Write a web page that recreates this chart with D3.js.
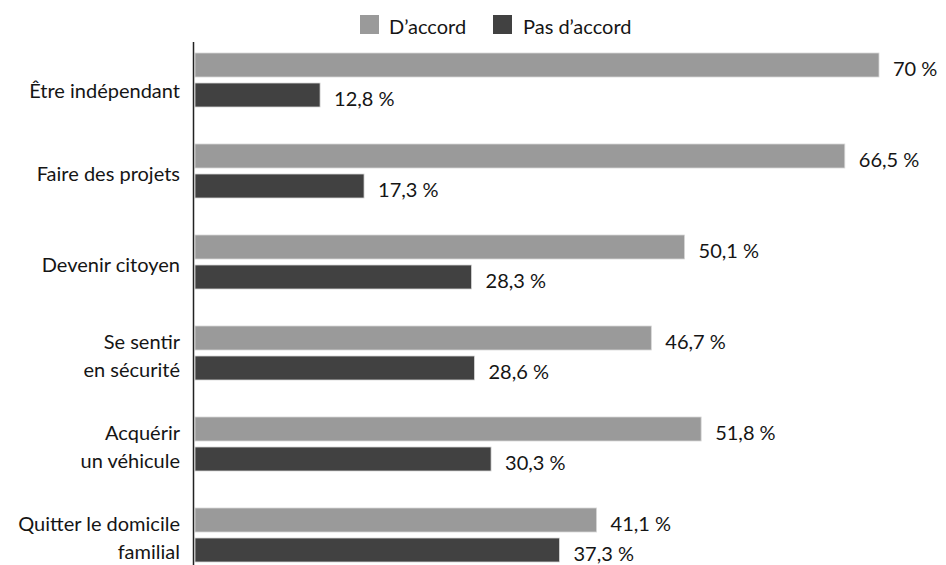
<!DOCTYPE html>
<html>
<head>
<meta charset="utf-8">
<script src="https://cdn.jsdelivr.net/npm/d3@7"></script>
<style>
  body { margin: 0; background: #fff; }
  text { font-family: "Lato", "DejaVu Sans", sans-serif; fill: #151515; }
</style>
</head>
<body>
<div id="chart"></div>
<script>
const categories = [
    ["Être indépendant"],
    ["Faire des projets"],
    ["Devenir citoyen"],
    ["Se sentir", "en sécurité"],
    ["Acquérir", "un véhicule"],
    ["Quitter le domicile", "familial"]
];
const seriesNames = ["D’accord", "Pas d’accord"];
const agree = [70, 66.5, 50.1, 46.7, 51.8, 41.1];
const disagree = [12.8, 17.3, 28.3, 28.6, 30.3, 37.3];
const colors = ["#9a9a9a", "#414141"];

const width = 946, height = 565;
const fontSize = 20;
const svg = d3.select("#chart").append("svg")
    .attr("width", width)
    .attr("height", height);

const x0 = 195;
const x = d3.scaleLinear().domain([0, 70]).range([x0, 879]);

const barH = 24, gap = 6;
// top of each group's first bar
const yGroup = d3.scaleLinear().domain([0, 1]).range([53, 144]);

const fmt = v => String(v).replace(".", ",") + " %";

const rows = [];
categories.forEach((c, i) => {
    rows.push({ i, s: 0, v: agree[i] });
    rows.push({ i, s: 1, v: disagree[i] });
});

const yBar = d => yGroup(d.i) + d.s * (barH + gap);

svg.selectAll("rect.bar")
    .data(rows)
    .enter()
    .append("rect")
    .attr("class", "bar")
    .attr("x", x0)
    .attr("y", yBar)
    .attr("width", d => x(d.v) - x0)
    .attr("height", barH)
    .attr("fill", d => colors[d.s])
    .attr("stroke", "#d8d8d8")
    .attr("stroke-width", 0.8);

svg.selectAll("text.val")
    .data(rows)
    .enter()
    .append("text")
    .attr("class", "val")
    .attr("x", d => x(d.v) + 14)
    .attr("y", d => yBar(d) + barH / 2 + 4)
    .attr("dy", "0.35em")
    .attr("font-size", fontSize)
    .text(d => fmt(d.v));

// category labels (the first one sits a bit lower in the original)
const lab = svg.selectAll("text.cat")
    .data(categories)
    .enter()
    .append("text")
    .attr("class", "cat")
    .attr("text-anchor", "end")
    .attr("font-size", fontSize);
lab.each(function (lines, i) {
    const cy = yGroup(i) + barH + gap / 2 + (i === 0 ? 11 : 3);
    const lh = 27.5;
    lines.forEach((t, k) => {
        d3.select(this).append("tspan")
            .attr("x", 180)
            .attr("y", cy + (k - (lines.length - 1) / 2) * lh)
            .attr("dy", "0.35em")
            .text(t);
    });
});

// axis line
svg.append("line")
    .attr("x1", 193.5).attr("x2", 193.5)
    .attr("y1", 42).attr("y2", height)
    .attr("stroke", "#222")
    .attr("stroke-width", 1.5);

// legend
const legend = [
    { name: seriesNames[0], c: colors[0], x: 360, tx: 389 },
    { name: seriesNames[1], c: colors[1], x: 493, tx: 523 }
];
const lg = svg.selectAll("g.leg").data(legend).enter().append("g");
lg.append("rect")
    .attr("x", d => d.x).attr("y", 15)
    .attr("width", 19).attr("height", 19)
    .attr("fill", d => d.c);
lg.append("text")
    .attr("x", d => d.tx).attr("y", 26.5)
    .attr("dy", "0.35em")
    .attr("font-size", fontSize)
    .text(d => d.name);
</script>
</body>
</html>
